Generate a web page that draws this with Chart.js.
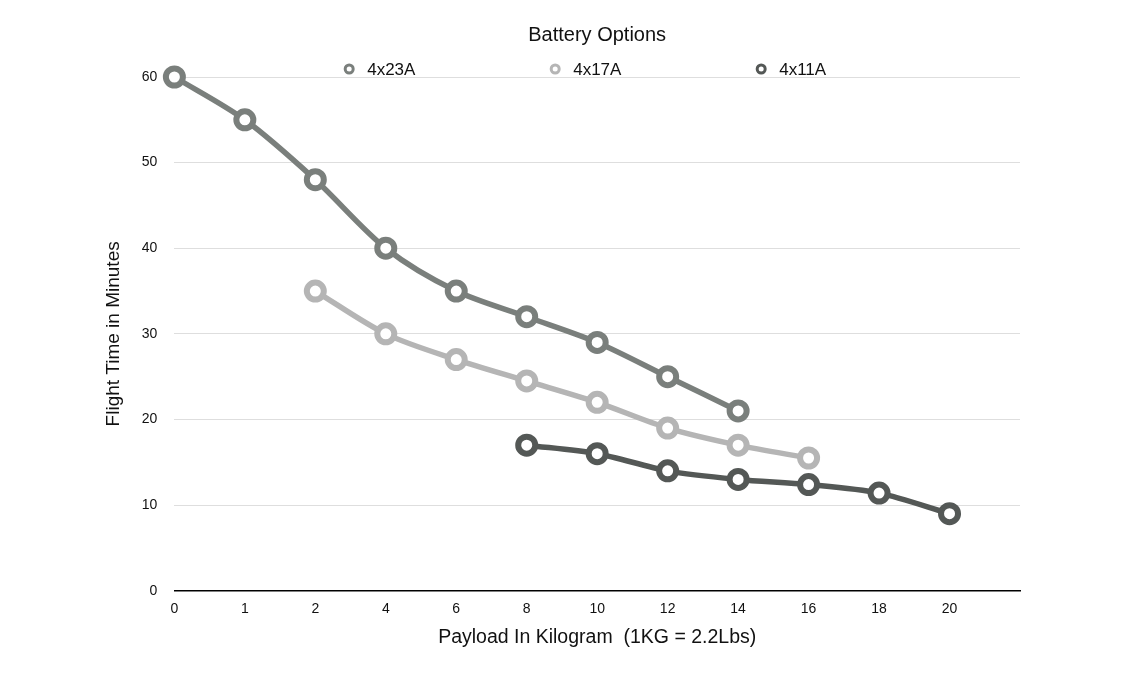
<!DOCTYPE html>
<html>
<head>
<meta charset="utf-8">
<script src="https://cdn.jsdelivr.net/npm/chart.js@4"></script>
<style>
  html, body { margin: 0; padding: 0; background: #fff; }
  #contenedor { width: 1146px; height: 676px; }
</style>
</head>
<body>
<div id="contenedor"><canvas id="myChart"></canvas></div>
<script>
// payload en kg (la ultima categoria vacia deja el hueco a la derecha)
const payload_kg = ['0', '1', '2', '4', '6', '8', '10', '12', '14', '16', '18', '20', '']
const series_nombres = ['4x23A', '4x17A', '4x11A']
const serie_23A = [60, 55, 48, 40, 35, 32, 29, 25, 21, null, null, null, null]
const serie_17A = [null, null, 35, 30, 27, 24.5, 22, 19, 17, 15.5, null, null, null]
const serie_11A = [null, null, null, null, null, 17, 16, 14, 13, 12.4, 11.4, 9, null]
const ticks_y = [0, 10, 20, 30, 40, 50, 60]

const colores = ['#7a7f7c', '#b5b5b5', '#545856']
const fuente = '"Liberation Sans", Arial, Helvetica, sans-serif'

function armarSerie(nombre, datos, color) {
    return {
        label: nombre,
        data: datos,
        borderColor: color,
        backgroundColor: '#ffffff',
        borderWidth: 5.5,
        tension: 0.3,
        clip: false,
        pointRadius: 8.5,
        pointHoverRadius: 8.5,
        pointBorderWidth: 6,
        pointBackgroundColor: '#ffffff',
        pointBorderColor: color
    }
}

// leyenda propia: items muy separados, como en el original
const leyendaPlugin = {
    id: 'leyendaPlugin',
    afterDraw(chart) {
        const ctx = chart.ctx
        const area = chart.chartArea
        const cx = (area.left + area.right) / 2
        ctx.save()
        ctx.font = '17px ' + fuente
        ctx.textBaseline = 'middle'
        ctx.textAlign = 'left'
        chart.data.datasets.forEach((ds, i) => {
            const x = cx - 42 + (i - 1) * 206
            const y = 69
            ctx.beginPath()
            ctx.arc(x, y, 4, 0, Math.PI * 2)
            ctx.fillStyle = '#ffffff'
            ctx.fill()
            ctx.lineWidth = 3
            ctx.strokeStyle = ds.borderColor
            ctx.stroke()
            ctx.fillStyle = '#111111'
            ctx.fillText(ds.label, x + 18, y + 1)
        })
        ctx.restore()
    }
}

const config = {
    type: 'line',
    data: {
        labels: payload_kg,
        datasets: [
            armarSerie(series_nombres[0], serie_23A, colores[0]),
            armarSerie(series_nombres[1], serie_17A, colores[1]),
            armarSerie(series_nombres[2], serie_11A, colores[2])
        ]
    },
    options: {
        responsive: true,
        maintainAspectRatio: false,
        animation: false,
        layout: { padding: { left: 99, right: 126, top: 0, bottom: 29 } },
        plugins: {
            legend: { display: false },
            tooltip: { enabled: false },
            title: {
                display: true,
                text: 'Battery Options',
                fullSize: false,
                color: '#111111',
                font: { family: fuente, size: 20, weight: 'normal' },
                padding: { top: 23, bottom: 30 }
            }
        },
        scales: {
            x: {
                offset: false,
                grid: { display: false, drawTicks: false },
                border: { display: true, color: '#000000', width: 1.5 },
                ticks: {
                    color: '#111111',
                    padding: 10,
                    maxRotation: 0,
                    autoSkip: false,
                    font: { family: fuente, size: 14 }
                },
                title: {
                    display: true,
                    text: 'Payload In Kilogram  (1KG = 2.2Lbs)',
                    color: '#111111',
                    font: { family: fuente, size: 19.5, lineHeight: 1 },
                    padding: { top: 0, bottom: 0 }
                }
            },
            y: {
                min: ticks_y[0],
                max: ticks_y[ticks_y.length - 1],
                afterBuildTicks: (eje) => { eje.ticks = ticks_y.map(v => ({ value: v })) },
                grid: { color: '#dedede', lineWidth: 1, drawTicks: false },
                border: { display: false },
                ticks: {
                    color: '#111111',
                    padding: 17,
                    font: { family: fuente, size: 14 }
                },
                title: {
                    display: true,
                    text: 'Flight Time in Minutes',
                    color: '#111111',
                    font: { family: fuente, size: 19 },
                    padding: { top: 3, bottom: 0 }
                }
            }
        }
    },
    plugins: [leyendaPlugin]
}

const myChart = new Chart(document.getElementById('myChart'), config)
</script>
</body>
</html>
